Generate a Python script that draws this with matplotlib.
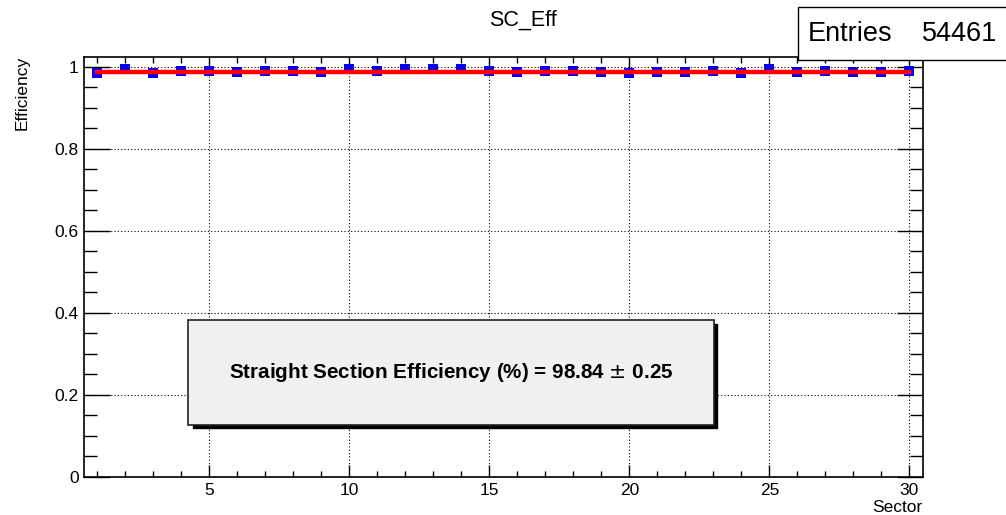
import matplotlib
matplotlib.use('Agg')
import matplotlib.pyplot as plt
from matplotlib.patches import Rectangle
from matplotlib.ticker import MultipleLocator

plt.rcParams['font.family'] = ['Liberation Sans', 'DejaVu Sans']

# efficiency per sector
sectors = list(range(1, 31))
eff = [0.985, 0.995, 0.985, 0.991, 0.991, 0.988, 0.991, 0.991, 0.988, 0.995,
       0.991, 0.995, 0.995, 0.995, 0.991, 0.988, 0.991, 0.991, 0.988, 0.985,
       0.988, 0.988, 0.991, 0.985, 0.995, 0.988, 0.991, 0.988, 0.988, 0.991]
fit_value = 0.9884
fit_error = 0.0025
entries = 54461
title = 'SC_Eff'

W, H = 1006, 515
fig = plt.figure(figsize=(W / 100, H / 100), dpi=100)

# axes frame in pixels: left 83.5, right 923.3, top 56.7, bottom 476.7
ax = fig.add_axes([83.5 / W, 1 - 476.7 / H, (923.3 - 83.5) / W, (476.7 - 56.7) / H])

ax.plot(sectors, eff, 's', color='#0000ff', markersize=7.4, markeredgewidth=0, zorder=3)
ax.plot([sectors[0], sectors[-1]], [fit_value, fit_value], color='#ff0000', lw=3.2, zorder=4)

ax.set_xlim(0.5, 30.5)
ax.set_ylim(0, 1.025)
ax.xaxis.set_major_locator(MultipleLocator(5))
ax.xaxis.set_minor_locator(MultipleLocator(1))
ax.yaxis.set_major_locator(MultipleLocator(0.2))
ax.yaxis.set_minor_locator(MultipleLocator(0.05))
ax.yaxis.set_major_formatter(plt.FuncFormatter(lambda v, p: '0' if v == 0 else ('1' if abs(v - 1) < 1e-9 else f'{v:.1f}')))

ax.tick_params(which='both', direction='in', top=True, right=True, labelsize=12.5, width=1, color='black')
ax.tick_params(axis='x', which='major', length=8.6, pad=4.5)
ax.tick_params(axis='x', which='minor', length=4.3)
ax.tick_params(axis='y', which='major', length=18.7, pad=3.5)
ax.tick_params(axis='y', which='minor', length=9.4)
for s in ax.spines.values():
    s.set_linewidth(1.2)

ax.grid(True, which='major', linestyle=(0, (1, 2)), color='black', linewidth=0.8)
ax.set_axisbelow(True)

# axis titles ROOT style: at the ends of the axes
fig.text(922 / W, 1 - 508 / H, 'Sector', ha='right', va='center', fontsize=12.5)
fig.text(22 / W, 1 - 56 / H, 'Efficiency', ha='center', va='top', rotation=90, fontsize=12.5)
fig.text(523 / W, 1 - 20 / H, title, ha='center', va='center', fontsize=15.5)

# fit result pave with shadow
x0, y0, x1, y1 = 188.3, 320, 714, 425
fig.add_artist(Rectangle(((x0 + 5) / W, 1 - (y1 + 3) / H), (x1 - x0 - 2) / W, (y1 - y0 - 1) / H,
                         transform=fig.transFigure, facecolor='black', edgecolor='black', zorder=10))
fig.add_artist(Rectangle((x0 / W, 1 - y1 / H), (x1 - x0) / W, (y1 - y0) / H,
                         transform=fig.transFigure, facecolor='#f0f0f0', edgecolor='#222222', lw=1.2, zorder=11))
fig.text((x0 + x1) / 2 / W, 1 - 372 / H,
         f'Straight Section Efficiency (%) = {fit_value * 100:.2f} $\\pm$ {fit_error * 100:.2f}',
         ha='center', va='center', fontsize=14.9, fontweight='bold', zorder=12)

# stats box
fig.add_artist(Rectangle((797.7 / W, 1 - 60 / H), (1010 - 797.7) / W, (60 - 6.7) / H,
                         transform=fig.transFigure, facecolor='white', edgecolor='black', lw=1, zorder=10))
fig.text(808 / W, 1 - 34 / H, 'Entries', ha='left', va='center', fontsize=19.5, zorder=11)
fig.text(997 / W, 1 - 34 / H, f'{entries}', ha='right', va='center', fontsize=19.5, zorder=11)

fig.savefig('out.png', dpi=100)
